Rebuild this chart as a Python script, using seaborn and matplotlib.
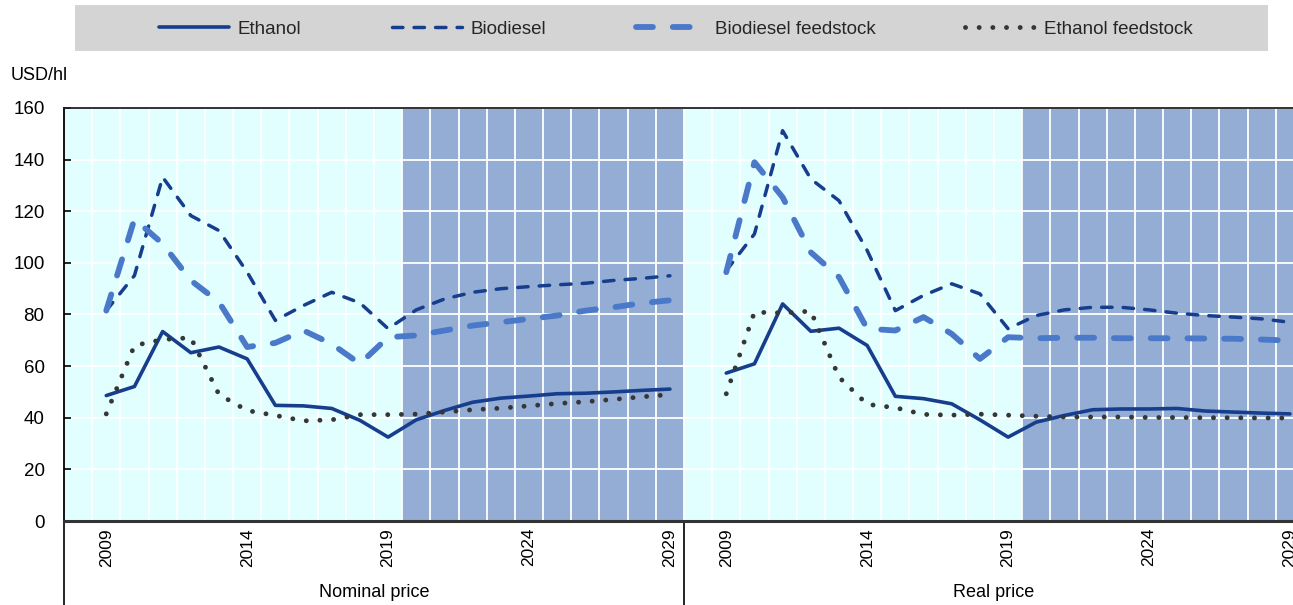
import numpy as np
import pandas as pd
import matplotlib
matplotlib.use("Agg")
import matplotlib.pyplot as plt
import seaborn as sns
from matplotlib.patches import Rectangle

# Biofuel prices, USD/hl, 2009-2029 (projection from 2020)
years = list(range(2009, 2030))
proj_years = list(range(2020, 2030))
label_years = [2009, 2014, 2019, 2024, 2029]
panels = ["Nominal price", "Real price"]
series = ["Ethanol", "Biodiesel", "Biodiesel feedstock", "Ethanol feedstock"]

ethanol_nom = [48.6, 52.1, 73.4, 65.2, 67.4, 62.8, 44.8, 44.6, 43.6, 39.0, 32.5,
               39.2, 42.8, 46.0, 47.6, 48.4, 49.3, 49.5, 50.0, 50.6, 51.1]
biodiesel_nom = [81.5, 95.1, 133.2, 118.3, 112.5, 96.4, 77.7, 83.5, 88.6, 84.5, 74.5,
                 81.8, 86.0, 88.6, 90.0, 90.8, 91.5, 92.1, 93.2, 94.0, 95.0]
biofeed_nom = [81.5, 117.0, 107.4, 93.2, 84.8, 67.4, 69.0, 73.8, 68.6, 60.9, 71.2,
               71.9, 73.8, 75.7, 77.0, 78.3, 79.6, 81.5, 82.8, 84.4, 85.5]
ethfeed_nom = [41.5, 68.0, 70.3, 71.0, 49.0, 42.8, 40.9, 38.8, 39.2, 41.2, 41.2,
               41.4, 42.2, 43.1, 43.7, 44.6, 45.5, 46.2, 47.1, 48.1, 49.0]

ethanol_real = [57.3, 60.9, 84.1, 73.5, 74.7, 68.0, 48.3, 47.4, 45.4, 39.2, 32.5,
                38.3, 40.9, 43.1, 43.4, 43.4, 43.6, 42.6, 42.2, 41.8, 41.5]
biodiesel_real = [97.0, 111.2, 151.2, 132.5, 124.1, 104.8, 81.5, 87.4, 91.9, 88.0, 74.5,
                  79.6, 81.8, 82.8, 82.8, 81.8, 80.5, 79.6, 79.0, 78.3, 77.0]
biofeed_real = [96.4, 139.0, 125.4, 104.1, 94.5, 74.5, 73.8, 79.0, 72.5, 62.8, 71.2,
                70.8, 71.0, 71.0, 70.8, 70.8, 70.8, 70.7, 70.6, 70.3, 69.9]
ethfeed_real = [49.3, 80.9, 80.6, 81.3, 55.7, 45.2, 43.9, 41.3, 41.0, 41.4, 41.0,
                40.6, 40.3, 40.3, 40.3, 40.1, 40.1, 40.0, 40.0, 39.9, 39.9]

values = {
    "Nominal price": [ethanol_nom, biodiesel_nom, biofeed_nom, ethfeed_nom],
    "Real price": [ethanol_real, biodiesel_real, biofeed_real, ethfeed_real],
}

Y_TOP = 160

styles = {
    "Ethanol": dict(color="#163e8c", linewidth=2.6, linestyle="-"),
    "Biodiesel": dict(color="#163e8c", linewidth=2.5, linestyle=(0, (3.0, 3.2))),
    "Biodiesel feedstock": dict(color="#4a79c9", linewidth=4.2, linestyle=(0, (2.9, 3.4))),
    "Ethanol feedstock": dict(color="#363636", linewidth=3.5, linestyle=(0, (0.01, 2.8))),
}

sns.set_theme(style="white")
plt.rcParams["font.family"] = ["Liberation Sans", "DejaVu Sans"]

fig = plt.figure(figsize=(12.93, 6.05), dpi=100)
ax = fig.add_axes([64 / 1293, 1 - 521 / 605, 1 - 64 / 1293, (521 - 108) / 605])
ax.set_facecolor("#e2ffff")

slots = len(years) + 1  # one empty slot in front of each panel


def xpos(p, yr):
    return p * slots + (yr - years[0]) + 1


# projection shading
for p in range(len(panels)):
    ax.bar([xpos(p, y) for y in proj_years], Y_TOP, width=1.0,
           color="#94add5", linewidth=0, zorder=1)

# lines
for p, panel in enumerate(panels):
    xs = [xpos(p, y) for y in years]
    for name, vals in zip(series, values[panel]):
        sns.lineplot(x=xs, y=vals, ax=ax, label=name if p == 0 else None,
                     solid_capstyle="round", dash_capstyle="round",
                     zorder=3, **styles[name])

handles, labels = ax.get_legend_handles_labels()
if ax.get_legend() is not None:
    ax.get_legend().remove()

ax.set_yticks(range(0, Y_TOP + 1, 20))
ax.tick_params(axis="y", direction="in", length=5, width=1.2, color="black",
               pad=14, labelsize=13.5, labelcolor="black", left=True)

ticks = [xpos(p, y) for p in range(len(panels)) for y in label_years]
ax.set_xticks(ticks)
ax.set_xticklabels([str(y) for p in range(len(panels)) for y in label_years],
                   rotation=90, fontsize=12.5)
ax.set_xticks(np.arange(-0.5, 2 * slots, 1.0), minor=True)
ax.tick_params(axis="x", which="both", length=0, pad=5, labelcolor="black")

# limits after the ticks, so the minor ticks do not widen the view
ax.set_xlim(-0.5, -0.5 + 43.61)
ax.set_ylim(0, Y_TOP)

ax.set_axisbelow("line")
ax.grid(False)
ax.grid(True, which="major", axis="y", color="white", linewidth=1.3)
ax.grid(True, which="minor", axis="x", color="white", linewidth=1.3)

for s in ["left", "top", "bottom"]:
    ax.spines[s].set_visible(True)
ax.spines["right"].set_visible(False)
ax.spines["left"].set_color("black")
ax.spines["left"].set_linewidth(1.3)
ax.spines["top"].set_color("#222222")
ax.spines["top"].set_linewidth(1.3)
ax.spines["bottom"].set_color("#333333")
ax.spines["bottom"].set_linewidth(2.2)

# panel dividers under the axis and panel names
for b in [-0.5, slots - 0.5, 2 * slots - 0.5]:
    ax.plot([b, b], [0, -0.25], transform=ax.get_xaxis_transform(),
            color="black", linewidth=1.2, clip_on=False)
for p, panel in enumerate(panels):
    ax.text(p * slots + (slots - 1) / 2, -0.172, panel, transform=ax.get_xaxis_transform(),
            ha="center", va="center", fontsize=13, color="black")
ax.set_xlim(-0.5, -0.5 + 43.61)

fig.text(11 / 1293, 1 - 76 / 605, "USD/hl", ha="left", va="center", fontsize=13, color="black")

# legend band
fig.patches.append(Rectangle((75 / 1293, 1 - 51 / 605), (1268 - 75) / 1293, 46 / 605,
                             transform=fig.transFigure, facecolor="#d4d4d4",
                             edgecolor="none", zorder=0))
fig.legend(handles, labels, loc="center", bbox_to_anchor=(676 / 1293, 1 - 29 / 605),
           ncol=4, frameon=False, handlelength=3.75, handletextpad=0.45,
           columnspacing=4.8, fontsize=13.5)

fig.savefig("out.png", dpi=100)
